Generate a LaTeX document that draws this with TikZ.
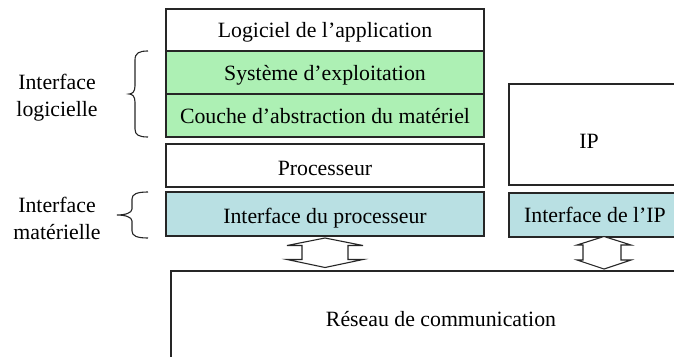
\documentclass[tikz,border=0pt]{standalone}
\usepackage{fontspec}
\setmainfont{Liberation Serif}
\begin{document}
\begin{tikzpicture}[x=1pt,y=-1pt,
  box/.style={draw=black!85,line width=1.1pt,inner sep=0pt,anchor=center,text height=15pt,text depth=0pt,font=\fontsize{21.8}{26}\selectfont},
  greenbox/.style={box,fill=softgreen},
  bluebox/.style={box,fill=softblue},
  lbl/.style={inner sep=0pt,font=\fontsize{21.8}{27}\selectfont,align=center},
  dblarrow/.style={draw=black!85,line width=1.1pt,fill=white,line join=miter},
  bracestyle/.style={draw=black!85,line width=1.1pt}]
\definecolor{softgreen}{RGB}{173,240,180}
\definecolor{softblue}{RGB}{185,224,227}
\useasboundingbox (0,0) rectangle (674,356);
\clip (0,0) rectangle (674,356);
% main stack
\node[box,minimum width=318pt,minimum height=42pt] (app) at (325,30) {Logiciel de l’application};
\node[greenbox,minimum width=318pt,minimum height=43pt] (os) at (325,72.5) {Système d’exploitation};
\node[greenbox,minimum width=318pt,minimum height=43pt] (hal) at (325,115.5) {Couche d’abstraction du matériel};
\node[box,minimum width=318pt,minimum height=43pt] (proc) at (325,165.5) {\raisebox{-2pt}{Processeur}};
\node[bluebox,minimum width=318pt,minimum height=44pt] (procif) at (325,214) {\raisebox{-1.5pt}{Interface du processeur}};
% IP side
\node[box,minimum width=220pt,minimum height=101pt] (ip) at (619,134.5) {};
\node[lbl] (iptxt) at (589,141) {IP};
\node[bluebox,minimum width=220pt,minimum height=44pt] (ipif) at (619,215) {};
\node[lbl,text height=15pt,text depth=0pt] (ipiftxt) at (595,215) {Interface de l’IP};
% network
\node[box,minimum width=560pt,minimum height=140pt] (net) at (451,341) {};
\node[lbl] (nettxt) at (441,319) {Réseau de communication};
% double arrows
\draw[dblarrow] (325,238) -- (363,245.5) -- (348,245.5) -- (348,259.5) -- (363,259.5) -- (325,267.5)
  -- (287,259.5) -- (302,259.5) -- (302,245.5) -- (287,245.5) -- cycle;
\draw[dblarrow] (604,236.5) -- (631,245) -- (621,245) -- (621,260) -- (631,260) -- (604,269)
  -- (577,260) -- (583,260) -- (583,245) -- (577,245) -- cycle;
% braces
\draw[bracestyle] (148,51) .. controls (139,51) and (135,53) .. (135,60) -- (135,86)
  .. controls (135,92) and (132,94) .. (129,94) .. controls (132,94) and (135,96) .. (135,102)
  -- (135,129) .. controls (135,135) and (139,137) .. (148,137);
\draw[bracestyle] (148,192) .. controls (137,192) and (132,194) .. (132,199) -- (132,209)
  .. controls (132,213) and (125,215) .. (117,215) .. controls (125,215) and (132,217) .. (132,221)
  -- (132,231) .. controls (132,236) and (137,238) .. (148,238);
\node[lbl] (swlbl) at (57,98) {Interface\\logicielle};
\node[lbl] (hwlbl) at (57,218) {Interface\\matérielle};
\end{tikzpicture}
\end{document}
